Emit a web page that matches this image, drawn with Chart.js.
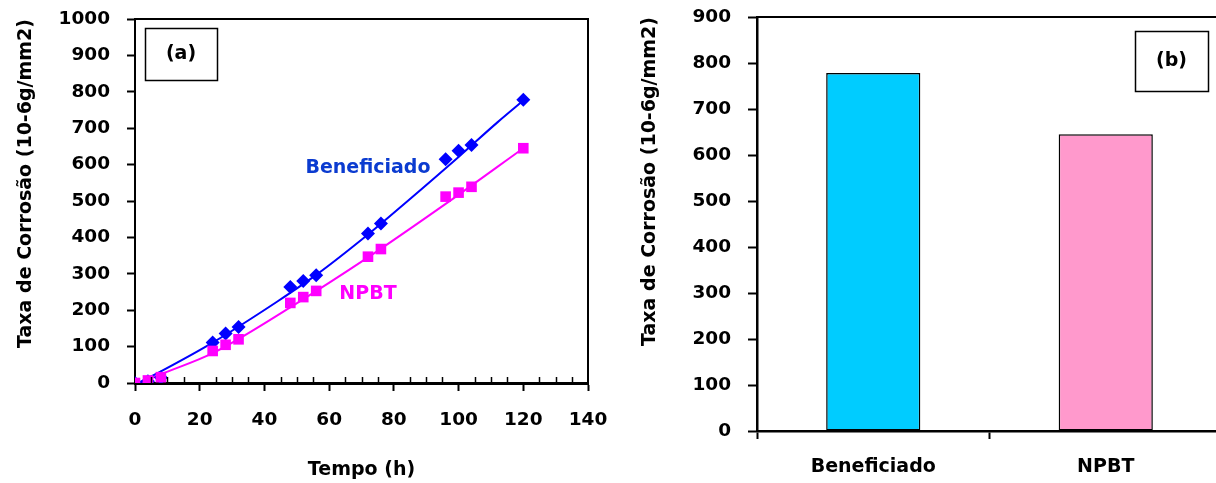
<!DOCTYPE html>
<html><head><meta charset="utf-8">
<script src="https://cdn.jsdelivr.net/npm/chart.js@4.4.0/dist/chart.umd.min.js"></script>
<style>
html,body{margin:0;padding:0;background:#fff;overflow:hidden;width:1216px;height:483px;}
#wrapA{position:absolute;left:0;top:0;width:620px;height:483px;}
#wrapB{position:absolute;left:620px;top:0;width:620px;height:483px;}
canvas{display:block;}
</style></head><body>
<div id="wrapA"><canvas id="cA" width="620" height="483"></canvas></div>
<div id="wrapB"><canvas id="cB" width="620" height="483"></canvas></div>
<script>
// ---- data ----
const hours       = [0, 4, 8, 24, 28, 32, 48, 52, 56, 72, 76, 96, 100, 104, 120];
const beneficiado = [0, 5, 15, 111, 136, 154, 264, 280, 296, 411, 438, 615, 638, 654, 778];
const npbt        = [0, 7, 16, 88, 105, 120, 220, 236, 253, 347, 368, 512, 523, 539, 645];
// trend lines as drawn in the reference
const fitHoursBenef = [1, 8, 24, 44, 56, 72, 84, 100, 112, 120];
const fitBenef      = [0, 32, 111, 224, 297, 408, 498, 621, 716, 776];
const fitHoursNpbt  = [2, 8, 24, 48, 72, 96, 120];
const fitNpbt       = [2, 24, 82, 208, 345, 492, 645];
// bar chart (b)
const barCategories = ['Beneficiado', 'NPBT'];
const barValues     = [778, 645];
const barColors     = ['#00CCFF', '#FF99CC'];
// texts
const yTitle = 'Taxa de Corrosão (10-6g/mm2)';
const xTitle = 'Tempo (h)';
const panelA = '(a)';
const panelB = '(b)';

const FONT = 'DejaVu Sans';
Chart.defaults.font.family = FONT;
Chart.defaults.font.weight = 'bold';
Chart.defaults.color = '#000';

const pts = (xs, ys) => xs.map((x, i) => ({x: x, y: ys[i]}));
const plain = v => String(v);
const noPadY = h => s => { s.width = h; s.paddingTop = 0; s.paddingBottom = 0; };
const noPadX = h => s => { s.height = h; s.paddingLeft = 0; s.paddingRight = 0; };

// frame / boxes / labels plugin
const deco = {
  id: 'deco',
  afterDatasetsDraw(chart, args, o) {
    const ctx = chart.ctx, a = chart.chartArea;
    ctx.save();
    ctx.strokeStyle = '#000';
    ctx.lineWidth = 2;
    ctx.beginPath();
    ctx.moveTo(a.left, a.top); ctx.lineTo(a.right, a.top);
    if (o.rightBorder) ctx.lineTo(a.right, a.bottom);
    ctx.stroke();
    // minor ticks
    if (o.minor) {
      const xs = chart.scales.x;
      ctx.lineWidth = 1.5;
      for (let v = o.minor; v < xs.max; v += o.minor) {
        if (v % 20 === 0) continue;
        const px = Math.round(xs.getPixelForValue(v)) + 0.5;
        ctx.beginPath(); ctx.moveTo(px, a.bottom); ctx.lineTo(px, a.bottom - 6); ctx.stroke();
      }
    }
    // panel box
    if (o.box) {
      const b = o.box;
      ctx.lineWidth = 1.5;
      ctx.strokeRect(b.x + 0.5, b.y + 0.5, b.w, b.h);
      ctx.fillStyle = '#000';
      ctx.font = 'bold 19px "' + FONT + '"';
      ctx.textAlign = 'center'; ctx.textBaseline = 'middle';
      ctx.fillText(b.text, b.x + b.w / 2, b.y + b.h / 2);
    }
    // series labels at data coordinates
    (o.labels || []).forEach(l => {
      ctx.fillStyle = l.color;
      ctx.font = 'bold 19px "' + FONT + '"';
      ctx.textAlign = 'center'; ctx.textBaseline = 'middle';
      ctx.fillText(l.text, chart.scales.x.getPixelForValue(l.x), chart.scales.y.getPixelForValue(l.y));
    });
    ctx.restore();
  }
};

new Chart(document.getElementById('cA'), {
  type: 'scatter',
  data: {
    datasets: [
      {label: 'NPBT', data: pts(hours, npbt), pointStyle: 'rect', pointRadius: 7.5,
       backgroundColor: '#FF00FF', borderColor: '#FF00FF', borderWidth: 0, order: 0},
      {label: 'Beneficiado', data: pts(hours, beneficiado), pointStyle: 'rectRot', pointRadius: 7,
       backgroundColor: '#0000FF', borderColor: '#0000FF', borderWidth: 0, order: 1},
      {label: 'fit Beneficiado', data: pts(fitHoursBenef, fitBenef), showLine: true, pointRadius: 0,
       borderColor: '#0000FF', borderWidth: 2, cubicInterpolationMode: 'monotone', order: 2},
      {label: 'fit NPBT', data: pts(fitHoursNpbt, fitNpbt), showLine: true, pointRadius: 0,
       borderColor: '#FF00FF', borderWidth: 2, cubicInterpolationMode: 'monotone', order: 3}
    ]
  },
  options: {
    responsive: false, animation: false, devicePixelRatio: 1,
    layout: {padding: {left: 0, top: 19, right: 32, bottom: 0}},
    plugins: {
      legend: {display: false}, tooltip: {enabled: false},
      deco: {rightBorder: true, minor: 5,
             box: {x: 145, y: 28, w: 72, h: 52, text: panelA},
             labels: [{text: 'Beneficiado', x: 72, y: 590, color: '#0B3BD0'},
                      {text: 'NPBT', x: 72, y: 243, color: '#FF00FF'}]}
    },
    scales: {
      x: {type: 'linear', min: 0, max: 140,
          ticks: {stepSize: 20, font: {size: 18.5}, padding: 18, color: '#000', callback: plain},
          grid: {drawOnChartArea: false, drawTicks: true, tickLength: 8, tickWidth: 2, tickColor: '#000'},
          border: {display: true, color: '#000', width: 3},
          title: {display: true, text: xTitle, font: {size: 19}, padding: {top: 0, bottom: 2}, color: '#000'},
          afterFit: noPadX(100)},
      y: {min: 0, max: 1000,
          ticks: {stepSize: 100, font: {size: 18.5}, padding: 17, color: '#000', callback: plain},
          grid: {drawOnChartArea: false, drawTicks: true, tickLength: 8, tickWidth: 2, tickColor: '#000'},
          border: {display: true, color: '#000', width: 2},
          title: {display: true, text: yTitle, align: 'end', font: {size: 19}, padding: {top: 15, bottom: 0}, color: '#000'},
          afterFit: noPadY(135)}
    }
  },
  plugins: [deco]
});

new Chart(document.getElementById('cB'), {
  type: 'bar',
  data: {
    labels: barCategories,
    datasets: [{data: barValues, backgroundColor: barColors, borderColor: '#000', borderWidth: 1.5,
                borderSkipped: false, categoryPercentage: 1, barPercentage: 0.405}]
  },
  options: {
    responsive: false, animation: false, devicePixelRatio: 1,
    layout: {padding: {left: 0, top: 17, right: 18, bottom: 0}},
    plugins: {
      legend: {display: false}, tooltip: {enabled: false},
      deco: {rightBorder: true, box: {x: 515, y: 31, w: 73, h: 60, text: panelB}}
    },
    scales: {
      x: {type: 'category', offset: true,
          ticks: {font: {size: 19}, padding: 17, color: '#000'},
          grid: {offset: true, drawOnChartArea: false, drawTicks: true, tickLength: 8, tickWidth: 2, tickColor: '#000'},
          border: {display: true, color: '#000', width: 2.5},
          afterFit: noPadX(52)},
      y: {min: 0, max: 900,
          ticks: {stepSize: 100, font: {size: 18.5}, padding: 17, color: '#000', callback: plain},
          grid: {drawOnChartArea: false, drawTicks: true, tickLength: 9, tickWidth: 2, tickColor: '#000'},
          border: {display: true, color: '#000', width: 2.5},
          title: {display: true, text: yTitle, align: 'end', font: {size: 19}, padding: {top: 19, bottom: 0}, color: '#000'},
          afterFit: noPadY(137)}
    }
  },
  plugins: [deco]
});
</script>
</body></html>
